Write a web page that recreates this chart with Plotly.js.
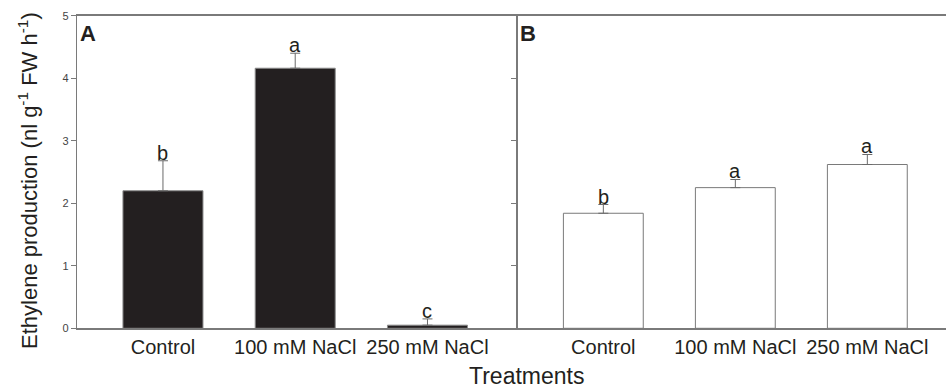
<!DOCTYPE html>
<html>
<head>
<meta charset="utf-8">
<script src="https://cdn.plot.ly/plotly-3.0.1.min.js"></script>
<style>html,body{margin:0;padding:0;background:#fff;}#chart{width:946px;height:389px;}</style>
</head>
<body>
<div id="chart"></div>
<script>
// Data
var categories = ['Control', '100 mM NaCl', '250 mM NaCl'];
var valuesA = [2.20, 4.16, 0.05];
var errorsA = [0.48, 0.24, 0.10];
var lettersA = ['b', 'a', 'c'];
var valuesB = [1.84, 2.25, 2.62];
var errorsB = [0.14, 0.13, 0.16];
var lettersB = ['b', 'a', 'a'];
var yTicks = [0, 1, 2, 3, 4, 5];

var FONT = 'Liberation Sans, Arial, sans-serif';
var W = 946, H = 389;
var axL = 77, axMid = 517, axTop = 15.7, axBot = 328.3;

function errBar(errs) {
  return {type: 'data', symmetric: false, array: errs, arrayminus: errs.map(function(){return 0;}),
          color: '#6a6a6a', thickness: 1, width: 5};
}

var traces = [
  {type: 'bar', x: categories, y: valuesA, xaxis: 'x', yaxis: 'y',
   marker: {color: '#231f20', line: {color: '#8a8a8a', width: 1}},
   error_y: errBar(errorsA), hoverinfo: 'none'},
  {type: 'bar', x: categories, y: valuesB, xaxis: 'x2', yaxis: 'y2',
   marker: {color: '#ffffff', line: {color: '#7a7a7a', width: 1}},
   error_y: errBar(errorsB), hoverinfo: 'none'}
];

var annotations = [];
function addLetters(vals, errs, letters, xref, yref) {
  for (var i = 0; i < vals.length; i++) {
    annotations.push({x: categories[i], y: vals[i] + errs[i], xref: xref, yref: yref,
      text: letters[i], showarrow: false, yanchor: 'bottom', yshift: -5,
      font: {family: FONT, size: 20, color: '#231f20'}});
  }
}
addLetters(valuesA, errorsA, lettersA, 'x', 'y');
addLetters(valuesB, errorsB, lettersB, 'x2', 'y2');

annotations.push({x: 78 / W, y: 1 - 19 / H, xref: 'paper', yref: 'paper', xanchor: 'left', yanchor: 'top',
  text: '<b>A</b>', showarrow: false, font: {family: FONT, size: 22, color: '#231f20'}});
annotations.push({x: 518 / W, y: 1 - 19 / H, xref: 'paper', yref: 'paper', xanchor: 'left', yanchor: 'top',
  text: '<b>B</b>', showarrow: false, font: {family: FONT, size: 22, color: '#231f20'}});
annotations.push({x: 28 / W, y: 1 - 181 / H, xref: 'paper', yref: 'paper', xanchor: 'center', yanchor: 'middle',
  textangle: -90, text: 'Ethylene production (nl g<sup>-1</sup> FW h<sup>-1</sup>)', showarrow: false,
  font: {family: FONT, size: 22, color: '#231f20'}});
annotations.push({x: 526 / W, y: 1 - 376 / H, xref: 'paper', yref: 'paper', xanchor: 'center', yanchor: 'middle',
  text: 'Treatments', showarrow: false, font: {family: FONT, size: 23, color: '#231f20'}});

var yDom = [(H - axBot) / H, (H - axTop) / H];
var xaxisBase = {type: 'category', showline: true, linecolor: '#7a7a7a', linewidth: 1.3, mirror: true,
  ticks: '', showgrid: false, zeroline: false, fixedrange: true,
  tickfont: {family: FONT, size: 20, color: '#231f20'}};
var yaxisBase = {range: [0, 5], tickvals: yTicks, showline: true, linecolor: '#7a7a7a', linewidth: 1.3,
  ticks: 'outside', ticklen: 5, tickcolor: '#7a7a7a', tickwidth: 1, showgrid: false, zeroline: false,
  domain: yDom, fixedrange: true, tickfont: {family: FONT, size: 11, color: '#444'}};

var layout = {
  width: W, height: H,
  margin: {l: 0, r: 0, t: 0, b: 0},
  paper_bgcolor: '#fff', plot_bgcolor: '#fff',
  showlegend: false, bargap: 0.395,
  xaxis: Object.assign({}, xaxisBase, {domain: [axL / W, axMid / W], range: [-0.65, 2.677], anchor: 'y'}),
  xaxis2: Object.assign({}, xaxisBase, {domain: [axMid / W, 1], range: [-0.654, 2.596], anchor: 'y2'}),
  yaxis: Object.assign({}, yaxisBase, {anchor: 'x', mirror: true}),
  yaxis2: Object.assign({}, yaxisBase, {anchor: 'x2', showticklabels: false}),
  annotations: annotations
};

Plotly.newPlot('chart', traces, layout, {displayModeBar: false, staticPlot: true});
</script>
</body>
</html>
